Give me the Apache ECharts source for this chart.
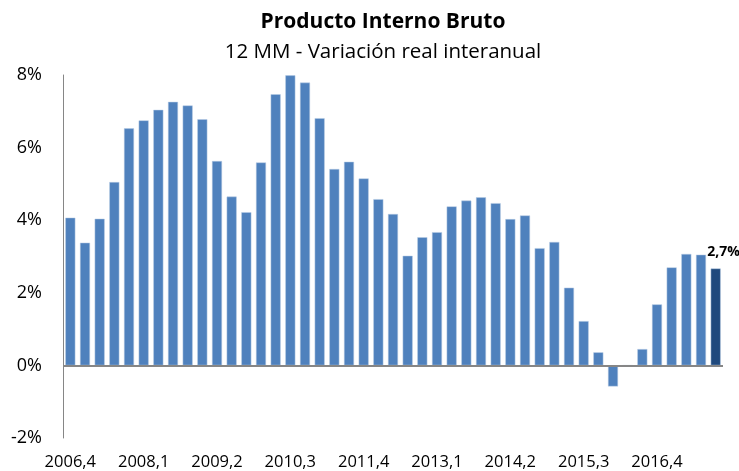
<!DOCTYPE html>
<html>
<head>
<meta charset="utf-8">
<script src="https://cdn.jsdelivr.net/npm/echarts@6/dist/echarts.min.js"></script>
<style>
  html, body { margin: 0; padding: 0; background: #fff; }
  #main { width: 739px; height: 471px; }
</style>
</head>
<body>
<div id="main"></div>
<script>
// trimestres 2006,4 ... 2017,4
var quarters = [];
for (var y = 2006; y <= 2017; y++) {
  for (var q = 1; q <= 4; q++) {
    if (y === 2006 && q < 4) continue;
    quarters.push(y + ',' + q);
  }
}
// variación real interanual (%)
var pibValues = [
  4.07, 3.38, 4.04, 5.05, 6.53, 6.75, 7.04, 7.26, 7.16, 6.78,
  5.63, 4.65, 4.22, 5.59, 7.47, 7.99, 7.79, 6.81, 5.41, 5.61,
  5.15, 4.58, 4.17, 3.02, 3.53, 3.67, 4.38, 4.54, 4.63, 4.47,
  4.03, 4.13, 3.23, 3.40, 2.14, 1.22, 0.36, -0.58, 0.0, 0.45,
  1.68, 2.70, 3.07, 3.05, 2.67
];
var yTicks = [-2, 0, 2, 4, 6, 8];

var fontFam = '"Open Sans", Lato, sans-serif';
var lastIdx = pibValues.length - 1;

var barData = pibValues.map(function (v, i) {
  if (i === lastIdx) {
    return {
      value: v,
      itemStyle: { color: '#1F497D' },
      label: {
        show: true,
        position: 'top',
        offset: [8, -4],
        formatter: function (p) { return p.value.toFixed(1).replace('.', ',') + '%'; },
        fontFamily: fontFam,
        fontWeight: 'bold',
        fontSize: 14,
        color: '#000'
      }
    };
  }
  return v;
});

var chart = echarts.init(document.getElementById('main'));
var option = {
  animation: false,
  title: [{
    text: 'Producto Interno Bruto',
    left: 378,
    top: 7,
    textAlign: 'center',
    textStyle: { fontFamily: fontFam, fontWeight: 'bold', fontSize: 21, color: '#000' }
  }, {
    text: '12 MM - Variación real interanual',
    left: 378,
    top: 37,
    textAlign: 'center',
    textStyle: { fontFamily: fontFam, fontWeight: 'normal', fontSize: 20.5, color: '#000' }
  }],
  grid: { left: 63, right: 16, top: 75, bottom: 33 },
  xAxis: {
    type: 'category',
    data: quarters,
    axisLine: { show: false },
    axisTick: { show: false },
    axisLabel: {
      interval: 4,
      margin: 16,
      fontFamily: fontFam,
      fontSize: 16.5,
      color: '#000'
    }
  },
  yAxis: {
    type: 'value',
    min: yTicks[0],
    max: yTicks[yTicks.length - 1],
    interval: 2,
    axisLine: { show: true, lineStyle: { color: '#868686', width: 1 } },
    axisTick: { show: false },
    splitLine: { show: false },
    axisLabel: {
      margin: 21,
      fontFamily: fontFam,
      fontSize: 18,
      color: '#000',
      formatter: '{value}%'
    }
  },
  series: [{
    type: 'bar',
    data: barData,
    barWidth: 10,
    itemStyle: { color: '#4F81BD', borderColor: '#B9CDE5', borderWidth: 0.5 },
    markLine: {
      silent: true,
      symbol: 'none',
      label: { show: false },
      lineStyle: { color: '#868686', width: 2, type: 'solid' },
      data: [{ yAxis: 0 }]
    }
  }]
};
chart.setOption(option);
</script>
</body>
</html>
